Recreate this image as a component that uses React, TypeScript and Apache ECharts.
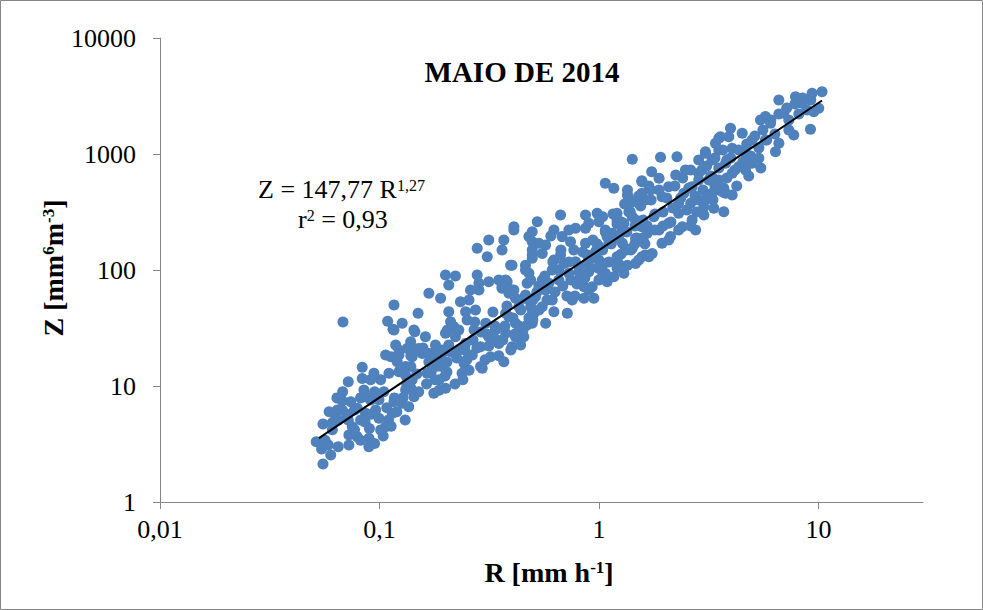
import React, { useEffect, useRef } from "react";
import * as echarts from "echarts";

const titleText = "MAIO DE 2014";
const xTickValues = [0.01, 0.1, 1, 10];
const xTickLabels = ["0,01", "0,1", "1", "10"];
const yTickLabels = ["1", "10", "100", "1000", "10000"];

// trend line end points (Z = 147,77 R^1,27)
const trendR = [0.053, 10.4];
const trendZ = [3.55, 2890];

// scatter points [R, Z]
const pointsLow: [number, number][] = [
  [0.0553, 2.13], [0.0515, 3.31], [0.0545, 2.86], [0.06, 2.54], [0.0553, 4.7], [0.061, 4.83],
  [0.0649, 3.0], [0.0585, 3.1], [0.0643, 6.21], [0.0677, 7.47], [0.0721, 10.9], [0.0835, 14.5],
  [0.0835, 11.6], [0.0726, 3.78], [0.0792, 3.66], [0.0896, 3.54], [0.0752, 4.46], [0.0821, 5.09],
  [0.0865, 5.82], [0.0792, 6.42], [0.0865, 8.09], [0.085, 9.24], [0.0912, 7.57], [0.0961, 6.21],
  [0.0995, 5.27], [0.1067, 4.46], [0.1144, 5.82], [0.1013, 4.18], [0.0912, 11.3], [0.0944, 12.9],
  [0.1013, 11.3], [0.1047, 8.93], [0.1105, 12.9], [0.1227, 13.3], [0.1067, 18.5], [0.1205, 16.2],
  [0.1227, 20.4], [0.1316, 14.7], [0.141, 11.3], [0.1436, 8.09], [0.1316, 9.24], [0.127, 7.1],
  [0.136, 6.63], [0.1165, 7.32], [0.146, 20.4], [0.1388, 24.1], [0.162, 26.6], [0.1567, 19.1],
  [0.174, 19.1], [0.165, 12.9], [0.18, 14.7], [0.187, 11.3], [0.177, 8.65], [0.2, 9.55],
  [0.193, 20.4], [0.2, 28.5], [0.1165, 30.4], [0.145, 29.4], [0.0677, 6.21], [0.063, 5.16],
  [0.0721, 5.09], [0.0682, 35.6], [0.109, 36.2],
];

const pointsMid: [number, number][] = [
  [0.1165, 49.9], [0.15, 42.3], [0.127, 34.7], [0.1153, 30.8], [0.1436, 30.4], [0.168, 63.0],
  [0.19, 57.0], [0.2, 90.6], [0.222, 88.8], [0.207, 74.3], [0.207, 43.7], [0.211, 35.8],
  [0.204, 30.4], [0.234, 53.3], [0.256, 55.1], [0.247, 43.7], [0.274, 45.2], [0.251, 37.1],
  [0.27, 30.4], [0.284, 67.3], [0.26, 67.3], [0.279, 90.6], [0.284, 76.8], [0.315, 79.3],
  [0.35, 82], [0.382, 79.3], [0.362, 69.6], [0.41, 67.3], [0.396, 110], [0.463, 110],
  [0.48, 93.6], [0.471, 76.8], [0.455, 57], [0.489, 48.3], [0.369, 181], [0.315, 181],
  [0.279, 154], [0.31, 130], [0.362, 149], [0.41, 221], [0.48, 194], [0.497, 149],
  [0.497, 126], [0.1186, 22.6], [0.1227, 18.5], [0.134, 21.1], [0.141, 17.9], [0.151, 21.1],
  [0.168, 19.1], [0.18, 22.6], [0.171, 15.7], [0.19, 17.9], [0.193, 14.7], [0.139, 14.7],
  [0.1316, 12.4], [0.1128, 17.9], [0.218, 32.5], [0.222, 26.6], [0.23, 20.4], [0.247, 23.3],
  [0.243, 15.7], [0.265, 18.5], [0.289, 14.7], [0.289, 21.8], [0.315, 26.6], [0.305, 34.7],
  [0.338, 30.4], [0.35, 23.3], [0.321, 17.9], [0.376, 28.5], [0.389, 39.6], [0.417, 34.7],
  [0.417, 26.6], [0.455, 26.6], [0.44, 22.6], [0.402, 21.8], [0.369, 16.2], [0.294, 14.2],
  [0.238, 12.9], [0.497, 34.7], [0.506, 42.3],
];

const pointsUpperMid: [number, number][] = [
  [1.07, 559], [1.17, 506], [1.35, 443], [1.57, 577], [1.57, 458], [0.669, 298], [0.869, 298],
  [0.982, 308], [1, 261], [0.9, 253], [0.869, 229], [0.783, 229], [0.73, 221], [0.624, 221],
  [0.524, 261], [0.497, 214], [0.41, 236], [0.497, 175], [0.533, 170], [0.572, 164], [0.552, 139],
  [0.497, 135], [0.68, 194], [0.743, 175], [0.669, 135], [0.624, 122], [0.693, 114], [0.783, 118],
  [0.769, 149], [0.869, 170], [0.885, 135], [0.966, 144], [1, 122], [1.11, 170], [1.15, 207],
  [1.28, 221], [1.26, 261], [1.21, 308], [1.42, 288], [1.52, 253], [1.66, 207], [1.47, 188],
  [1.32, 154], [1.21, 130], [1.35, 110], [1.52, 122], [1.63, 135], [1.3, 93.6], [1.07, 93.6],
  [1, 103], [0.9, 96.8], [0.811, 107], [0.811, 82], [0.73, 93.6], [0.657, 82], [0.613, 100],
  [0.592, 76.8], [0.552, 82], [0.489, 82], [0.463, 100], [0.402, 110], [0.376, 82], [0.362, 71.8],
  [0.402, 67.3], [0.417, 57], [0.463, 60.9], [0.514, 58.9], [0.572, 67.3], [0.552, 48.3],
  [0.497, 42.3], [0.613, 55.1], [0.624, 43.7], [0.718, 42.3], [0.756, 55.1], [0.855, 57],
  [0.949, 57], [0.855, 71.8], [0.932, 71.8], [1, 82], [1.09, 79.3], [1.17, 87.5], [0.471, 33.5],
  [0.572, 34.7], [0.389, 63.0], [0.432, 48.3], [0.376, 42.3],
];

const pointsHigh: [number, number][] = [
  [1.42, 900], [1.91, 936], [2.27, 948], [1.74, 704], [1.57, 589], [1.35, 490], [1.36, 428],
  [1.88, 617], [2.24, 659], [2.48, 728], [2.85, 888], [3.06, 1014], [3.4, 1237], [3.58, 1408],
  [2.85, 682], [3.17, 597], [3.52, 597], [3.78, 458], [3.28, 458], [2.66, 523], [2.44, 458],
  [2.08, 523], [1.94, 428], [1.72, 490], [1.63, 401], [1.52, 376], [1.42, 388], [1.39, 318],
  [1.21, 270], [1.07, 221], [1.04, 288], [1, 159], [1.09, 194], [1.19, 194], [1.3, 253],
  [1.28, 170], [1.47, 270], [1.57, 236], [1.78, 288], [1.88, 221], [2.12, 194], [2.08, 253],
  [2.31, 308], [2.31, 376], [2.62, 376], [2.85, 401], [3.01, 298], [2.66, 270], [2.4, 236],
  [2.76, 221], [3.34, 340], [3.71, 318], [1.94, 170], [1.75, 139], [1.57, 130], [1.42, 154],
  [1.05, 114], [1.23, 114], [1.47, 114], [1.69, 130], [2.08, 181],
];

const pointsTop: [number, number][] = [
  [10.4, 3444], [9.37, 3336], [7.87, 3119], [6.61, 2924], [8.44, 2737], [10.05, 2477], [9.54, 2317],
  [6.96, 2244], [5.74, 2100], [5.45, 1964], [6.06, 1840], [7.34, 1610], [9.21, 1633], [7.73, 1458],
  [6.61, 1237], [6.38, 1047], [5.74, 1321], [4.99, 1321], [4.5, 1508], [3.98, 1667], [3.91, 1408],
  [3.52, 1364], [3.06, 1047], [3.52, 1082], [4.05, 1119], [4.66, 1014], [5.36, 918], [4.99, 832],
  [4.34, 778], [3.78, 832], [3.28, 888], [2.95, 728], [3.28, 637], [4.05, 682], [4.66, 728],
  [3.71, 506], [4.05, 443], [3.01, 351], [3.52, 490],
];

// additional points inside the dense core of the cloud
const pointsCoreLow: [number, number][] = [
  [0.077, 4.2], [0.082, 3.4], [0.09, 4.3], [0.095, 3.2], [0.104, 3.7], [0.11, 5.1], [0.12, 6.0],
  [0.128, 7.9], [0.139, 9.6], [0.151, 8.9], [0.164, 10.4], [0.179, 11.3], [0.199, 12.2],
  [0.187, 14.9], [0.168, 16.1], [0.148, 12.7], [0.133, 10.4], [0.117, 7.9], [0.108, 6.5],
  [0.0995, 7.6], [0.0915, 5.7], [0.086, 4.9], [0.071, 5.7], [0.074, 7.3], [0.068, 8.9],
  [0.064, 7.9], [0.059, 6.0], [0.061, 4.2], [0.0565, 3.4], [0.139, 18.2], [0.158, 21.3],
  [0.183, 18.2], [0.203, 16.1],
  [0.065, 5.1], [0.077, 6.2], [0.082, 7.9], [0.095, 8.9], [0.0895, 3.0], [0.0726, 3.1],
  [0.113, 4.5], [0.131, 5.1],
];

const pointsCoreMid: [number, number][] = [
  [0.207, 22.6], [0.225, 17.4], [0.245, 20.4], [0.267, 24.9], [0.29, 29.2], [0.315, 22.1],
  [0.343, 24.9], [0.373, 32.9], [0.406, 38.6], [0.441, 45.2], [0.48, 55.1], [0.522, 64.6],
  [0.256, 13.7], [0.303, 16.8], [0.35, 18.2], [0.397, 20.4], [0.451, 30.4], [0.5, 37.1],
  [0.23, 30.4], [0.272, 35.6], [0.329, 43.4], [0.381, 48.9], [0.203, 13.2], [0.221, 10.4],
  [0.187, 9.2], [0.24, 11.3],
  [0.172, 13.2], [0.212, 19.6], [0.25, 16.8], [0.278, 21.3], [0.309, 28.1], [0.336, 32.9],
  [0.365, 24.9], [0.414, 28.1], [0.195, 19.6],
  [0.58, 55.1], [0.631, 64.6], [0.685, 72.8], [0.745, 82], [0.811, 96], [0.881, 113],
  [0.959, 127], [1.04, 149], [1.14, 168], [1.23, 189], [1.34, 213], [1.46, 240], [1.59, 270],
  [0.657, 100], [0.73, 117], [0.846, 143], [0.939, 181], [1.07, 213], [1.21, 249], [1.37, 316],
  [1.55, 356], [0.778, 59.7], [0.9, 67.3], [1.04, 88.8], [1.21, 104], [1.4, 149], [1.62, 168],
  [0.533, 45.2], [0.48, 38.6], [0.432, 32.9],
  [0.567, 88.8], [0.617, 117], [0.671, 149], [0.715, 59.7], [0.794, 75.7], [0.863, 85.3],
  [0.92, 104], [0.979, 168], [0.604, 196], [0.533, 72.8], [0.5, 55.1],
];

const pointsCoreHigh: [number, number][] = [
  [1.73, 401], [1.88, 490], [2.04, 418], [2.22, 530], [2.41, 621], [2.62, 728], [2.85, 597],
  [3.1, 788], [3.38, 924], [3.67, 1082], [1.96, 316], [2.13, 259], [2.52, 329], [2.74, 435],
  [2.98, 490], [3.24, 646], [3.52, 757], [3.83, 888], [1.8, 221], [1.59, 189], [1.46, 168],
  [1.34, 149], [2.31, 221], [2.62, 240], [3.31, 401],
  [1.11, 117], [1.26, 137], [1.49, 189], [1.66, 240], [1.8, 304], [1.96, 240], [2.17, 342],
  [2.36, 418], [2.57, 509], [2.79, 316], [3.04, 401], [3.38, 530], [1.69, 530], [1.52, 435],
  [1.31, 371], [1.16, 304],
  [3.99, 924], [4.34, 1082], [4.72, 1220], [5.14, 1430], [5.59, 1610], [6.08, 1964], [6.61, 2213],
  [7.18, 2494], [7.82, 2700], [8.49, 3040], [9.24, 2924], [4.53, 853], [4.92, 961], [5.36, 1127],
  [5.82, 1321], [6.34, 1487], [7.34, 1964], [8.15, 2213], [8.87, 2395], [4.17, 728], [3.83, 621],
  [4.25, 530], [4.82, 646], [5.47, 757], [3.67, 470], [3.24, 435],
];

const SERIF = '"Liberation Serif", "Times New Roman", serif';
const AXIS_GRAY = "#868686";
const POINT_BLUE = "#4f81bd";

const baseStyle = (size: number, bold: boolean, lh: number) => ({
  fontFamily: SERIF,
  fontWeight: bold ? "bold" : "normal",
  fontSize: size,
  lineHeight: lh,
  fill: "#000",
});
const supStyle = (size: number, bold: boolean) => ({
  fontFamily: SERIF,
  fontWeight: bold ? "bold" : "normal",
  fontSize: size,
  lineHeight: size,
  verticalAlign: "top",
  padding: [2, 0, 0, 0],
  fill: "#000",
});

export default function App() {
  const ref = useRef<HTMLDivElement>(null);

  useEffect(() => {
    if (!ref.current) return;
    const chart = echarts.init(ref.current, undefined, { renderer: "svg" });
    const allPoints = [
      ...pointsLow, ...pointsMid, ...pointsUpperMid, ...pointsHigh, ...pointsTop,
      ...pointsCoreLow, ...pointsCoreMid, ...pointsCoreHigh,
    ];
    const trendData = trendR.map((r, i) => [r, trendZ[i]]);

    const option: any = {
      animation: false,
      backgroundColor: "#ffffff",
      grid: [
        { left: 160, top: 38, width: 763, height: 464 },
        { left: 160, top: 38, width: 658.5, height: 464 },
      ],
      xAxis: [
        {
          type: "log",
          logBase: 10,
          gridIndex: 0,
          min: 0.01,
          max: 30,
          axisLine: { show: true, lineStyle: { color: AXIS_GRAY, width: 1 } },
          axisTick: { show: false },
          axisLabel: { show: false },
          splitLine: { show: false },
        },
        {
          type: "log",
          logBase: 10,
          gridIndex: 1,
          min: 0.01,
          max: 10,
          axisLine: { show: false },
          axisTick: { show: true, inside: false, length: 7, lineStyle: { color: AXIS_GRAY } },
          axisLabel: {
            show: true,
            margin: 14,
            color: "#000",
            fontFamily: SERIF,
            fontSize: 26,
            formatter: (v: number) => {
              const idx = xTickValues.findIndex((t) => Math.abs(Math.log10(t) - Math.log10(v)) < 1e-6);
              return idx >= 0 ? xTickLabels[idx] : "";
            },
          },
          splitLine: { show: false },
        },
      ],
      yAxis: [
        {
          type: "log",
          logBase: 10,
          gridIndex: 0,
          min: 1,
          max: 10000,
          axisLine: { show: true, lineStyle: { color: AXIS_GRAY, width: 1 } },
          axisTick: { show: true, inside: false, length: 7, lineStyle: { color: AXIS_GRAY } },
          axisLabel: {
            show: true,
            margin: 24,
            color: "#000",
            fontFamily: SERIF,
            fontSize: 26,
            formatter: (v: number) => yTickLabels[Math.round(Math.log10(v))] ?? "",
          },
          splitLine: { show: false },
        },
        {
          type: "log",
          logBase: 10,
          gridIndex: 1,
          min: 1,
          max: 10,
          show: false,
        },
      ],
      series: [
        {
          type: "scatter",
          xAxisIndex: 0,
          yAxisIndex: 0,
          data: allPoints,
          symbol: "circle",
          symbolSize: 11,
          itemStyle: { color: POINT_BLUE, opacity: 1 },
          z: 2,
        },
        {
          type: "line",
          xAxisIndex: 0,
          yAxisIndex: 0,
          data: trendData,
          symbol: "none",
          lineStyle: { color: "#000", width: 2 },
          z: 3,
        },
      ],
      graphic: [
        {
          type: "rect",
          shape: { x: 0.5, y: 0.5, width: 982, height: 609 },
          style: { fill: "none", stroke: AXIS_GRAY, lineWidth: 1 },
          silent: true,
        },
        {
          type: "text",
          x: 522,
          y: 72,
          style: {
            text: titleText,
            font: `bold 29px ${SERIF}`,
            fill: "#000",
            align: "center",
            verticalAlign: "middle",
          },
        },
        {
          type: "text",
          x: 258,
          y: 189,
          style: {
            text: "{a|Z = 147,77 R}{s|1,27}",
            align: "left",
            verticalAlign: "middle",
            fill: "#000",
            rich: { a: baseStyle(26, false, 28), s: supStyle(16, false) },
          },
        },
        {
          type: "text",
          x: 298,
          y: 219,
          style: {
            text: "{a|r}{s|2}{a| = 0,93}",
            align: "left",
            verticalAlign: "middle",
            fill: "#000",
            rich: { a: baseStyle(26, false, 28), s: supStyle(16, false) },
          },
        },
        {
          type: "text",
          x: 549,
          y: 572,
          style: {
            text: "{b|R [mm h}{s|-1}{b|]}",
            align: "center",
            verticalAlign: "middle",
            fill: "#000",
            rich: { b: baseStyle(28, true, 30), s: supStyle(17, true) },
          },
        },
        {
          type: "text",
          x: 53,
          y: 268,
          rotation: Math.PI / 2,
          style: {
            text: "{b|Z [mm}{s|6}{b|m}{s|-3}{b|]}",
            align: "center",
            verticalAlign: "middle",
            fill: "#000",
            rich: { b: baseStyle(28, true, 30), s: supStyle(17, true) },
          },
        },
      ],
    };
    chart.setOption(option);
    return () => chart.dispose();
  }, []);

  return (
    <div
      ref={ref}
      style={{ position: "fixed", left: 0, top: 0, width: 983, height: 610, background: "#fff" }}
    />
  );
}
